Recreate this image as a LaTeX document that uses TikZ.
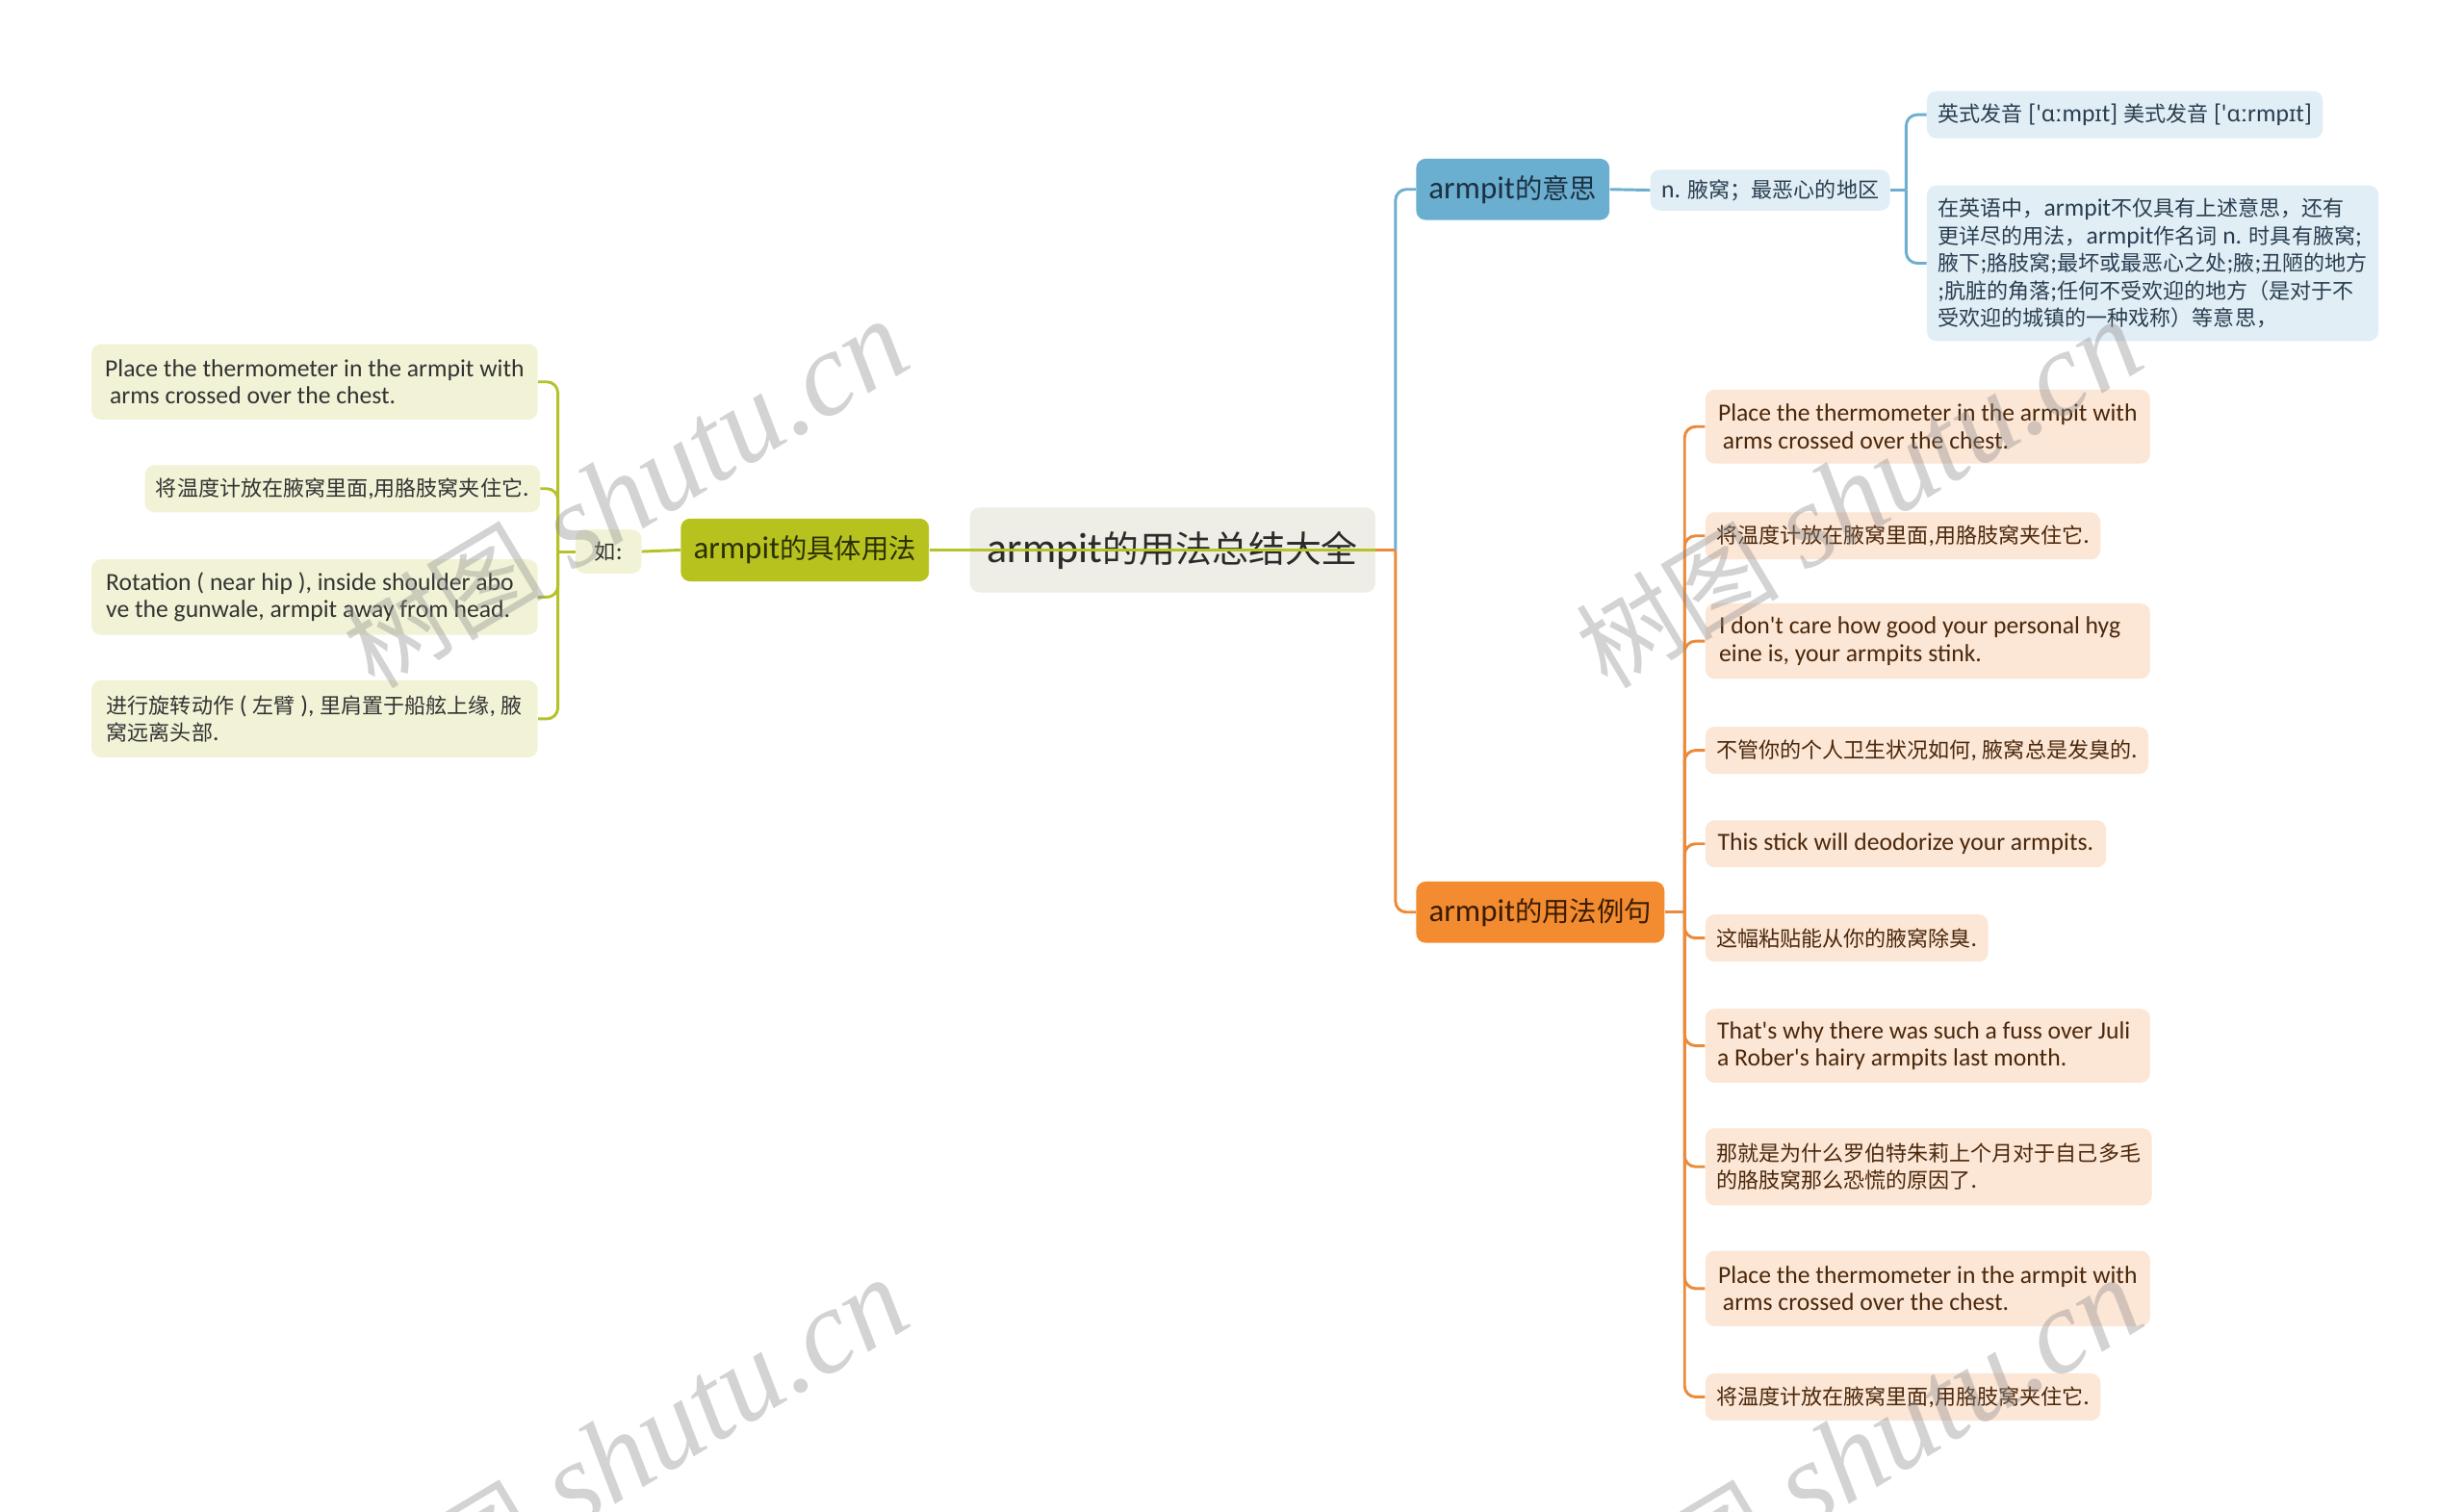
\documentclass[tikz,border=0pt]{standalone}
\usepackage{fontspec}
\setmainfont{Carlito}[Ligatures=TeXOff]
\newfontfamily\enfont{Carlito}[Ligatures=TeXOff]
\newfontfamily\zhfont{Noto Sans CJK SC}[Scale=0.86]
\newfontfamily\ipafont{Noto Sans}[Scale=0.9]
\newfontfamily\wmzh{Noto Sans CJK SC}[Scale=0.85]
\newfontfamily\wmen{Liberation Serif}[Ligatures=TeXOff]
% automatic font switching for CJK and IPA characters
\newXeTeXintercharclass\zhclass
\newXeTeXintercharclass\ipaclass
\newcount\cjkc
\cjkc="4E00 \loop\XeTeXcharclass\cjkc=\zhclass\relax\ifnum\cjkc<"9FFF \advance\cjkc by 1 \repeat
\cjkc="3000 \loop\XeTeXcharclass\cjkc=\zhclass\relax\ifnum\cjkc<"303F \advance\cjkc by 1 \repeat
\cjkc="FF00 \loop\XeTeXcharclass\cjkc=\zhclass\relax\ifnum\cjkc<"FFEF \advance\cjkc by 1 \repeat
\cjkc="0250 \loop\XeTeXcharclass\cjkc=\ipaclass\relax\ifnum\cjkc<"02FF \advance\cjkc by 1 \repeat
\XeTeXinterchartoks 0 \zhclass = {\zhfont}
\XeTeXinterchartoks 4095 \zhclass = {\zhfont}
\XeTeXinterchartoks \ipaclass \zhclass = {\zhfont}
\XeTeXinterchartoks \zhclass 0 = {\enfont}
\XeTeXinterchartoks \zhclass 4095 = {\enfont}
\XeTeXinterchartoks 0 \ipaclass = {\ipafont}
\XeTeXinterchartoks 4095 \ipaclass = {\ipafont}
\XeTeXinterchartoks \zhclass \ipaclass = {\ipafont}
\XeTeXinterchartoks \ipaclass 0 = {\enfont}
\XeTeXinterchartoks \ipaclass 4095 = {\enfont}
\XeTeXinterchartokenstate=1
\newcommand\wmsetup{\XeTeXinterchartokenstate=0 \fontsize{76}{80}\selectfont}

\definecolor{rootfill}{HTML}{EEEEE6}
\definecolor{roottxt}{HTML}{2B2B2B}
\definecolor{gmainfill}{HTML}{B8C21F}
\definecolor{gline}{HTML}{B5C22A}
\definecolor{gleaffill}{HTML}{F2F3D6}
\definecolor{gmaintxt}{HTML}{2A3005}
\definecolor{gleaftxt}{HTML}{333333}
\definecolor{omainfill}{HTML}{F38C31}
\definecolor{oline}{HTML}{EB8A3A}
\definecolor{oleaffill}{HTML}{FCE6D5}
\definecolor{omaintxt}{HTML}{3B1C02}
\definecolor{oleaftxt}{HTML}{4A280C}
\definecolor{bmainfill}{HTML}{6AAED0}
\definecolor{bline}{HTML}{6EAFD0}
\definecolor{bleaffill}{HTML}{E1EEF6}
\definecolor{bmaintxt}{HTML}{1C3142}
\definecolor{bleaftxt}{HTML}{2A3E50}
\definecolor{wmcol}{HTML}{8C8C8C}

\begin{document}
\begin{tikzpicture}[x=1pt,y=-1pt,
  leafbox/.style={rounded corners=6pt, inner xsep=7pt, inner ysep=2pt, anchor=west, align=left,
    font=\fontsize{15.7}{17.5}\selectfont},
  gleaf/.style={leafbox, fill=gleaffill, text=gleaftxt},
  oleaf/.style={leafbox, fill=oleaffill, text=oleaftxt},
  bleaf/.style={leafbox, fill=bleaffill, text=bleaftxt},
  mainbox/.style={rounded corners=6pt, inner sep=2pt, anchor=west, align=center,
    font=\fontsize{20.2}{22}\selectfont},
  gl/.style={draw=gline, line width=1.8pt},
  ol/.style={draw=oline, line width=1.8pt},
  bl/.style={draw=bline, line width=1.8pt},
  rc/.style={rounded corners=7pt},
  wm/.style={text=wmcol, text opacity=0.38, font=\wmsetup, rotate=31, inner sep=0pt}]
\useasboundingbox (0,0) rectangle (1568,962);
\fill[white] (0,0) rectangle (1568,962);

% root
\node[mainbox, fill=rootfill, text=roottxt, minimum width=258pt, minimum height=54pt,
  font=\fontsize{27}{30}\selectfont] (root) at (617,350) {armpit的用法总结大全};

% main branches
\node[mainbox, fill=bmainfill, text=bmaintxt, minimum width=123pt, minimum height=39pt] (bmain) at (901,120.5) {armpit的意思};
\node[mainbox, fill=omainfill, text=omaintxt, minimum width=158pt, minimum height=39pt] (omain) at (901,580.5) {armpit的用法例句};
\node[mainbox, fill=gmainfill, text=gmaintxt, minimum width=158pt, minimum height=40pt] (gmain) at (433,350) {armpit的具体用法};

% blue subtree
\node[bleaf, minimum width=150pt, minimum height=26pt] (b1) at (1050,121) {n. 腋窝；最恶心的地区};
\node[bleaf, minimum width=249pt, minimum height=30pt] (b2a) at (1226,73) {英式发音 ['ɑːmpɪt] 美式发音 ['ɑːrmpɪt]};
\node[bleaf, minimum width=284pt, minimum height=99pt] (b2b) at (1226,167.5) {在英语中，armpit不仅具有上述意思，还有\\更详尽的用法，armpit作名词 n. 时具有腋窝;\\腋下;胳肢窝;最坏或最恶心之处;腋;丑陋的地方\\;肮脏的角落;任何不受欢迎的地方（是对于不\\受欢迎的城镇的一种戏称）等意思，};

% orange subtree
\node[oleaf, minimum width=283pt, minimum height=47pt] (o1) at (1085,271.5) {Place the thermometer in the armpit with\\\hspace*{3pt}arms crossed over the chest.};
\node[oleaf, minimum width=249pt, minimum height=30pt] (o2) at (1085,341) {将温度计放在腋窝里面,用胳肢窝夹住它.};
\node[oleaf, minimum width=283pt, minimum height=48pt] (o3) at (1085,408) {I don't care how good your personal hyg\hspace*{10pt}\\eine is, your armpits stink.};
\node[oleaf, minimum width=279pt, minimum height=30pt] (o4) at (1085,477.5) {不管你的个人卫生状况如何, 腋窝总是发臭的.};
\node[oleaf, minimum width=255pt, minimum height=30pt] (o5) at (1085,537) {This stick will deodorize your armpits.};
\node[oleaf, minimum width=178pt, minimum height=30pt] (o6) at (1085,597) {这幅粘贴能从你的腋窝除臭.};
\node[oleaf, minimum width=283pt, minimum height=47pt] (o7) at (1085,665.5) {That's why there was such a fuss over Juli\hspace*{5pt}\\a Rober's hairy armpits last month.};
\node[oleaf, minimum width=283pt, minimum height=49pt] (o8) at (1085,742.5) {那就是为什么罗伯特朱莉上个月对于自己多毛\\的胳肢窝那么恐慌的原因了.};
\node[oleaf, minimum width=283pt, minimum height=48pt] (o9) at (1085,820) {Place the thermometer in the armpit with\\\hspace*{3pt}arms crossed over the chest.};
\node[oleaf, minimum width=249pt, minimum height=30pt] (o10) at (1085,889) {将温度计放在腋窝里面,用胳肢窝夹住它.};

% green subtree
\node[gleaf, minimum width=42pt, minimum height=28pt, align=center] (ru) at (366,351) {如:};
\node[gleaf, minimum width=284pt, minimum height=48pt] (g1) at (58,243) {Place the thermometer in the armpit with\\\hspace*{3pt}arms crossed over the chest.};
\node[gleaf, minimum width=250pt, minimum height=30pt] (g2) at (92,311) {将温度计放在腋窝里面,用胳肢窝夹住它.};
\node[gleaf, minimum width=284pt, minimum height=48pt] (g3) at (58,380) {Rotation ( near hip ), inside shoulder abo\hspace*{6pt}\\ve the gunwale, armpit away from head.};
\node[gleaf, minimum width=284pt, minimum height=49pt] (g4) at (58,457.5) {进行旋转动作 ( 左臂 ), 里肩置于船舷上缘, 腋\\窝远离头部.};

% junction coordinates
\coordinate (hub) at (888,350);
\coordinate (bj) at (1213,121);
\coordinate (oj) at (1072,580.5);
\coordinate (gj) at (355,351);

% connectors: root
\draw[gl] (gmain.east) -- (root.east);
\draw[ol] (root.east) -- (hub);
\draw[bl, rc] (hub) |- (bmain.west);
\draw[ol, rc] (hub) |- (omain.west);

% blue
\draw[bl] (bmain.east) -- (b1.west);
\draw[bl] (b1.east) -- (bj);
\draw[bl, rc] (bj) |- (b2a.west);
\draw[bl, rc] (bj) |- (b2b.west);

% orange
\draw[ol] (omain.east) -- (oj);
\foreach \n in {o1,o2,o3,o4,o5,o6,o7,o8,o9,o10}
  \draw[ol, rc] (oj) |- (\n.west);

% green
\draw[gl] (gmain.west) -- (ru.east);
\draw[gl] (ru.west) -- (gj);
\foreach \n in {g1,g2,g3,g4}
  \draw[gl, rc] (gj) |- (\n.east);

% watermarks
\node[wm] (wm1) at (398,315) {{\wmzh 树图} {\wmen\itshape shutu.cn}};
\node[wm] (wm2) at (1183,315) {{\wmzh 树图} {\wmen\itshape shutu.cn}};
\node[wm] (wm3) at (398,925) {{\wmzh 树图} {\wmen\itshape shutu.cn}};
\node[wm] (wm4) at (1183,925) {{\wmzh 树图} {\wmen\itshape shutu.cn}};
\end{tikzpicture}
\end{document}
